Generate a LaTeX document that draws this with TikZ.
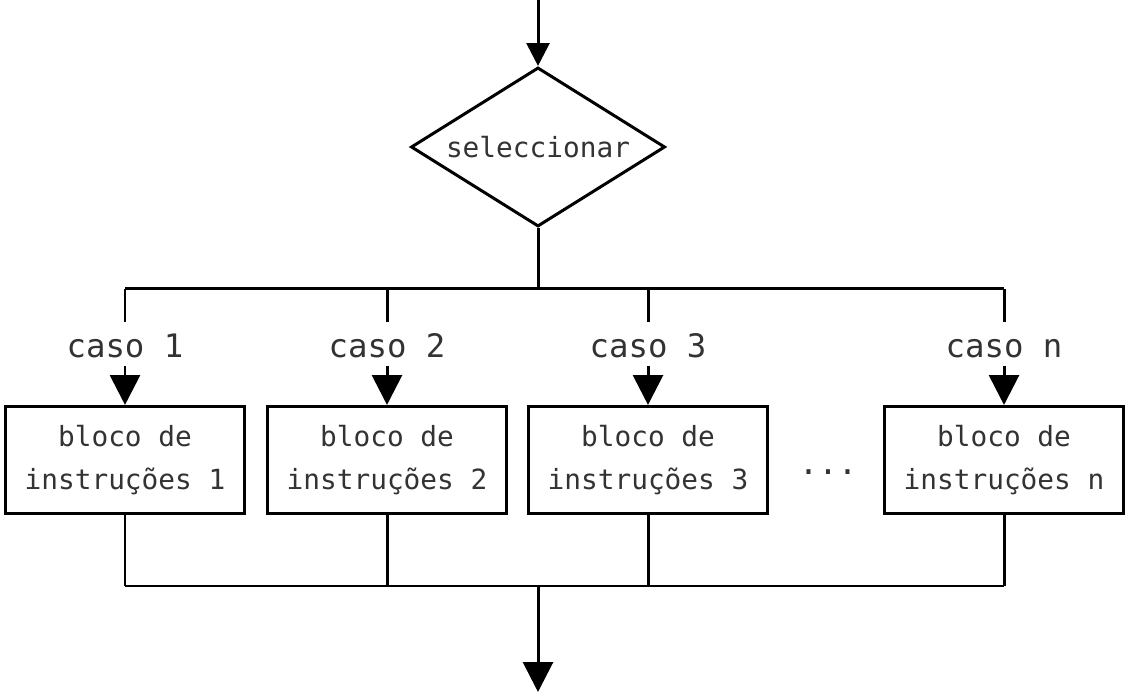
\documentclass[tikz,border=0pt]{standalone}
\usepackage{fontspec}
\setmonofont{DejaVu Sans Mono}
\usetikzlibrary{shapes.geometric,arrows.meta}
\definecolor{ink}{rgb}{0.2,0.2,0.2}
\tikzset{
  line/.style={line width=0.85pt},
  arr/.style={line, -{Triangle[length=8.5pt,width=8.5pt]}},
  block/.style={rectangle, draw, line, minimum width=2.38cm, minimum height=1.07cm,
    align=center, inner sep=0pt, text=ink, font=\ttfamily\fontsize{7.9}{12.2}\selectfont},
  caselabel/.style={inner sep=0pt, minimum height=0.42cm, text height=0.75em, text depth=0pt,
    text=ink, font=\ttfamily\fontsize{9.2}{11}\selectfont}
}
\begin{document}
\begin{tikzpicture}[x=0.01cm, y=-0.01cm]
        \useasboundingbox (0,0) rectangle (1125,692);
        \draw (538, 0) coordinate(start);
        \draw (538, 147) node(sel)[diamond, draw, line, aspect=1.6, minimum width=2.54cm,
          minimum height=1.59cm, inner sep=0pt, text=ink,
          font=\ttfamily\fontsize{7.9}{10}\selectfont]{seleccionar};
        \draw[line, -{Triangle[length=6.5pt,width=6.5pt]}] (start) -- (sel.north);

        % bus de casos
        \draw (538, 289) coordinate(top);
        \draw (125, 289) coordinate(j1);
        \draw (387, 289) coordinate(j2);
        \draw (648, 289) coordinate(j3);
        \draw (1004, 289) coordinate(j4);
        \draw[line] (sel.south) -- (top);
        \draw[line] (j1) -- (j4);

        \draw (125, 344) node(c1)[caselabel]{caso 1};
        \draw (387, 344) node(c2)[caselabel]{caso 2};
        \draw (648, 344) node(c3)[caselabel]{caso 3};
        \draw (1004, 344) node(c4)[caselabel]{caso n};

        \draw (125, 460) node(b1)[block]{bloco de\\instruções 1};
        \draw (387, 460) node(b2)[block]{bloco de\\instruções 2};
        \draw (648, 460) node(b3)[block]{bloco de\\instruções 3};
        \draw (1004, 460) node(b4)[block]{bloco de\\instruções n};
        \draw (828, 472) node(dots)[text=ink, font=\ttfamily\fontsize{9.2}{11}\selectfont]{...};

        \foreach \i in {1,...,4} {
          \draw[line] (j\i) -- (c\i.north);
          \draw[arr] (c\i.south) -- (b\i.north);
        }

        % juncao final
        \draw (125, 586) coordinate(k1);
        \draw (387, 586) coordinate(k2);
        \draw (648, 586) coordinate(k3);
        \draw (1004, 586) coordinate(k4);
        \draw (538, 586) coordinate(bot);
        \draw (538, 692) coordinate(stop);
        \foreach \i in {1,...,4} {
          \draw[line] (b\i.south) -- (k\i);
        }
        \draw[line] (k1) -- (k4);
        \draw[arr] (bot) -- (stop);
    \end{tikzpicture}
\end{document}
